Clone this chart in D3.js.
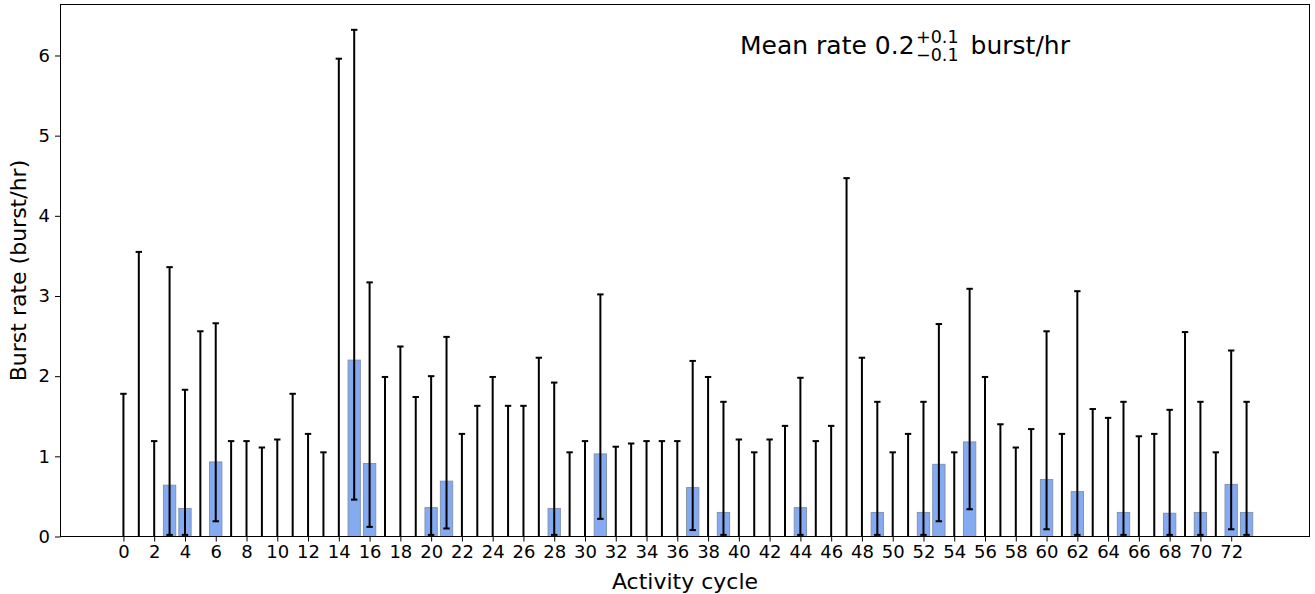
<!DOCTYPE html>
<html>
<head>
<meta charset="utf-8">
<script src="https://cdn.jsdelivr.net/npm/d3@7"></script>
<style>
  html, body { margin: 0; padding: 0; background: #fff; }
  svg { display: block; font-family: "DejaVu Sans", sans-serif; }
</style>
</head>
<body>
<svg id="chart" width="1315" height="594"></svg>
<script>
// ---- data ----
const cycles = [0,1,2,3,4,5,6,7,8,9,10,11,12,13,14,15,16,17,18,19,20,21,22,23,24,25,26,27,28,29,30,31,32,33,34,35,36,37,38,39,40,41,42,43,44,45,46,47,48,49,50,51,52,53,54,55,56,57,58,59,60,61,62,63,64,65,66,67,68,69,70,71,72,73];
const rates = [0,0,0,0.64,0.35,0,0.93,0,0,0,0,0,0,0,0,2.20,0.91,0,0,0,0.36,0.69,0,0,0,0,0,0,0.35,0,0,1.03,0,0,0,0,0,0.61,0,0.30,0,0,0,0,0.36,0,0,0,0,0.30,0,0,0.30,0.90,0,1.18,0,0,0,0,0.71,0,0.56,0,0,0.30,0,0,0.29,0,0.30,0,0.65,0.30];
const upper = [1.78,3.55,1.19,3.36,1.83,2.56,2.66,1.19,1.19,1.11,1.21,1.78,1.28,1.05,5.96,6.32,3.17,1.99,2.37,1.74,2.00,2.49,1.28,1.63,1.99,1.63,1.63,2.23,1.92,1.05,1.19,3.02,1.12,1.16,1.19,1.19,1.19,2.19,1.99,1.68,1.21,1.05,1.21,1.38,1.98,1.19,1.38,4.47,2.23,1.68,1.05,1.28,1.68,2.65,1.05,3.09,1.99,1.40,1.11,1.34,2.56,1.28,3.06,1.59,1.48,1.68,1.25,1.28,1.58,2.55,1.68,1.05,2.32,1.68];
const lower = [0,0,0,0.02,0.02,0,0.19,0,0,0,0,0,0,0,0,0.46,0.12,0,0,0,0.02,0.10,0,0,0,0,0,0,0.02,0,0,0.22,0,0,0,0,0,0.08,0,0.02,0,0,0,0,0.02,0,0,0,0,0.02,0,0,0.02,0.19,0,0.34,0,0,0,0,0.09,0,0.02,0,0,0.02,0,0,0.02,0,0.02,0,0.09,0.02];
const xTicks = [0,2,4,6,8,10,12,14,16,18,20,22,24,26,28,30,32,34,36,38,40,42,44,46,48,50,52,54,56,58,60,62,64,66,68,70,72];
const yTicks = [0,1,2,3,4,5,6];
const xLabel = "Activity cycle";
const yLabel = "Burst rate (burst/hr)";

// ---- layout ----
const plot = {left: 60.5, right: 1309.5, top: 4.5, bottom: 536.5};
const barWidth = 0.8;
const svg = d3.select("#chart");

const lo = d3.min(cycles) - barWidth / 2, hi = d3.max(cycles) + barWidth / 2;
const pad = 0.05 * (hi - lo);
const x = d3.scaleLinear().domain([lo - pad, hi + pad]).range([plot.left, plot.right]);
const yMax = d3.max(upper) * 1.05;
const y = d3.scaleLinear().domain([0, yMax]).range([plot.bottom, plot.top]);

const data = cycles.map((c, i) => ({c, r: rates[i], up: upper[i], lo: lower[i]}));

// bars
svg.append("g").selectAll("rect").data(data.filter(d => d.r > 0)).join("rect")
  .attr("x", d => x(d.c - barWidth / 2))
  .attr("width", d => x(d.c + barWidth / 2) - x(d.c - barWidth / 2))
  .attr("y", d => y(d.r))
  .attr("height", d => y(0) - y(d.r))
  .attr("fill", "#84aaf1")
  .attr("stroke", "#8393b0")
  .attr("stroke-width", 1);

// error bars
const eb = svg.append("g").attr("stroke", "#000").attr("stroke-width", 2);
eb.selectAll("line.v").data(data).join("line").attr("class", "v")
  .attr("x1", d => x(d.c)).attr("x2", d => x(d.c))
  .attr("y1", d => y(d.lo)).attr("y2", d => y(d.up));
const cap = 3.2;
eb.selectAll("line.cu").data(data).join("line").attr("class", "cu")
  .attr("x1", d => x(d.c) - cap).attr("x2", d => x(d.c) + cap)
  .attr("y1", d => y(d.up)).attr("y2", d => y(d.up));
eb.selectAll("line.cl").data(data.filter(d => d.r > 0)).join("line").attr("class", "cl")
  .attr("x1", d => x(d.c) - cap).attr("x2", d => x(d.c) + cap)
  .attr("y1", d => y(d.lo)).attr("y2", d => y(d.lo));

// axes
const xAxis = svg.append("g").attr("transform", `translate(0,${plot.bottom})`)
  .call(d3.axisBottom(x).tickValues(xTicks).tickFormat(d3.format("d")).tickSize(5).tickPadding(4).tickSizeOuter(0));
const yAxis = svg.append("g").attr("transform", `translate(${plot.left},0)`)
  .call(d3.axisLeft(y).tickValues(yTicks).tickFormat(d3.format("d")).tickSize(5.5).tickPadding(5).tickSizeOuter(0));
[xAxis, yAxis].forEach(a => {
  a.select(".domain").remove();
  a.selectAll("text").attr("font-size", 18).attr("fill", "#000").attr("font-family", "DejaVu Sans");
  a.selectAll("line").attr("stroke", "#000").attr("stroke-width", 1);
});

// frame
svg.append("rect")
  .attr("x", plot.left).attr("y", plot.top)
  .attr("width", plot.right - plot.left).attr("height", plot.bottom - plot.top)
  .attr("fill", "none").attr("stroke", "#000").attr("stroke-width", 1);

// labels
svg.append("text").attr("x", (plot.left + plot.right) / 2).attr("y", 589)
  .attr("text-anchor", "middle").attr("font-size", 22).text(xLabel);
svg.append("text").attr("transform", `translate(26,${(plot.top + plot.bottom) / 2}) rotate(-90)`)
  .attr("text-anchor", "middle").attr("font-size", 22).text(yLabel);

// annotation: Mean rate 0.2^{+0.1}_{-0.1} burst/hr
const ann = svg.append("g");
const t1 = ann.append("text").attr("x", 740).attr("y", 54).attr("font-size", 25).text("Mean rate 0.2");
const w1 = t1.node().getComputedTextLength();
const sx = 740 + w1 + 1.5;
const sup = ann.append("text").attr("x", sx).attr("y", 43).attr("font-size", 17.5).text("+0.1");
const sub = ann.append("text").attr("x", sx).attr("y", 60.5).attr("font-size", 17.5).text("\u22120.1");
const ws = Math.max(sup.node().getComputedTextLength(), sub.node().getComputedTextLength());
ann.append("text").attr("x", sx + ws + 12).attr("y", 54).attr("font-size", 25).text("burst/hr");
</script>
</body>
</html>
